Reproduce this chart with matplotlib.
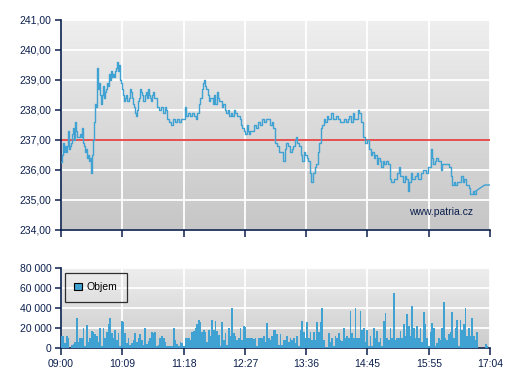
import numpy as np
import matplotlib
matplotlib.use("Agg")
import matplotlib.pyplot as plt
from matplotlib.colors import LinearSegmentedColormap
from matplotlib.patches import Patch
from matplotlib.ticker import FuncFormatter

plt.rcParams['font.family'] = ['Liberation Sans', 'DejaVu Sans']

# price: minutes after 09:00 and price
price_min = [0, 1, 2, 3, 5, 6, 7, 8, 9, 10, 11, 12, 14, 15, 16, 17, 18, 20, 21, 23, 24, 25, 26, 27, 28, 29, 30, 32, 33, 34,
             35, 36, 37, 38, 39, 41, 42, 43, 44, 45, 46, 47, 49, 50, 51, 52, 53, 54, 55, 56, 58, 59, 60, 61, 62, 63, 64, 65,
             67, 68, 69, 70, 71, 72, 73, 74, 76, 77, 78, 79, 80, 81, 82, 83, 85, 86, 87, 88, 89, 90, 91, 92, 94, 95, 96, 97,
             98, 99, 100, 102, 103, 104, 105, 106, 108, 111, 113, 115, 117, 118, 120, 122, 124, 126, 129, 131, 133, 135, 138,
             140, 141, 143, 146, 148, 150, 152, 153, 156, 157, 159, 160, 161, 162, 164, 166, 167, 168, 170, 171, 173, 174, 176,
             177, 178, 180, 182, 183, 185, 186, 188, 190, 192, 193, 195, 196, 199, 200, 202, 203, 204, 205, 206, 208, 209, 210,
             211, 212, 213, 215, 218, 220, 222, 224, 227, 229, 231, 233, 236, 238, 239, 241, 244, 246, 248, 250, 253, 254, 256,
             258, 261, 262, 264, 265, 266, 268, 271, 272, 274, 275, 278, 279, 281, 282, 284, 287, 288, 290, 291, 293, 294, 297,
             298, 300, 301, 303, 305, 307, 309, 310, 312, 315, 317, 319, 321, 324, 325, 327, 329, 331, 333, 335, 336, 338, 341,
             343, 345, 347, 350, 351, 353, 354, 356, 358, 360, 361, 363, 364, 367, 369, 371, 372, 375, 376, 378, 379, 381, 382,
             385, 386, 388, 389, 391, 393, 395, 396, 398, 399, 402, 403, 405, 406, 408, 411, 412, 414, 415, 417, 419, 420, 422,
             423, 425, 426, 429, 430, 432, 434, 437, 438, 440, 441, 443, 444, 447, 448, 450, 451, 453, 455, 457, 458, 460, 461,
             464, 465, 466, 468, 473, 478, 484]
price = [236.28, 236.5, 236.9, 236.6, 236.8, 236.6, 236.8, 237.3, 236.7, 236.8, 236.9, 237.2, 237.4, 237.0, 237.6, 237.3,
         237.1, 237.1, 237.2, 237.1, 237.4, 236.9, 236.8, 236.6, 236.7, 236.4, 236.5, 236.3, 236.4, 235.9, 236.5, 237.0,
         237.6, 238.2, 238.1, 239.4, 238.7, 238.9, 238.5, 238.2, 238.5, 238.8, 238.4, 238.6, 238.7, 238.9, 238.8, 239.2,
         239.0, 239.3, 239.1, 239.2, 239.1, 239.3, 239.4, 239.6, 239.3, 239.5, 239.0, 238.9, 238.7, 238.5, 238.3, 238.4,
         238.5, 238.3, 238.3, 238.4, 238.7, 238.6, 238.4, 238.2, 238.1, 237.9, 237.8, 238.0, 238.3, 238.4, 238.7, 238.6,
         238.5, 238.3, 238.3, 238.5, 238.6, 238.4, 238.7, 238.5, 238.4, 238.3, 238.5, 238.6, 238.4, 238.4, 238.1, 238.0,
         238.1, 237.9, 238.1, 238.0, 237.7, 237.6, 237.5, 237.7, 237.6, 237.7, 237.6, 237.7, 237.7, 238.1, 237.8, 237.9,
         237.8, 237.9, 237.8, 237.7, 237.9, 238.2, 238.4, 238.7, 238.9, 239.0, 238.8, 238.7, 238.5, 238.3, 238.4, 238.4,
         238.2, 238.5, 238.2, 238.6, 238.4, 238.3, 238.3, 238.1, 238.2, 238.0, 237.9, 238.0, 237.8, 237.9, 237.8, 238.0,
         237.9, 237.8, 237.8, 237.7, 237.5, 237.4, 237.4, 237.3, 237.2, 237.2, 237.5, 237.3, 237.2, 237.3, 237.3, 237.5,
         237.4, 237.6, 237.5, 237.7, 237.6, 237.7, 237.7, 237.5, 237.6, 237.4, 236.9, 236.8, 236.6, 236.6, 236.3, 236.7,
         236.9, 236.8, 236.6, 236.7, 236.8, 237.0, 237.1, 236.9, 236.8, 236.5, 236.3, 236.6, 236.5, 236.4, 236.3, 235.9,
         235.6, 235.9, 236.1, 236.2, 236.6, 236.9, 237.4, 237.5, 237.7, 237.6, 237.8, 237.7, 237.7, 237.9, 237.7, 237.7,
         237.8, 237.7, 237.6, 237.6, 237.7, 237.6, 237.7, 237.8, 237.6, 237.9, 237.7, 237.7, 238.0, 237.9, 237.6, 237.1,
         236.9, 237.0, 236.7, 236.5, 236.6, 236.4, 236.5, 236.2, 236.4, 236.3, 236.1, 236.3, 236.2, 236.3, 236.2, 235.7,
         235.6, 235.6, 235.7, 235.7, 235.9, 236.1, 235.8, 235.8, 235.6, 235.8, 235.7, 235.3, 235.6, 235.9, 235.7, 235.7,
         235.8, 235.9, 235.7, 235.7, 235.9, 236.0, 236.0, 235.9, 236.1, 236.1, 236.7, 236.4, 236.2, 236.3, 236.4, 236.3,
         236.3, 236.0, 236.2, 236.2, 236.2, 236.2, 236.1, 235.8, 235.5, 235.6, 235.5, 235.6, 235.6, 235.6, 235.8, 235.6,
         235.7, 235.5, 235.5, 235.4, 235.2, 235.2, 235.3, 235.2, 235.3, 235.4, 235.5, 235.5]

# volume bars, evenly spaced from about 09:01 to 17:01
volume = [12000, 12000, 5000, 12000, 10000, 0, 3000, 4000, 6000, 30000, 6000, 10000, 10000, 20000, 2000, 23000, 6000,
          10000, 17000, 16000, 14000, 12000, 6000, 20000, 2000, 20000, 10000, 16000, 24000, 30000, 15000, 10000, 18000,
          8000, 15000, 2000, 27000, 26000, 15000, 5000, 10000, 3000, 5000, 8000, 15000, 6000, 10000, 14000, 8000, 3000,
          20000, 4000, 7000, 10000, 16000, 15000, 16000, 2000, 3000, 10000, 12000, 10000, 6000, 2000, 2000, 2000, 2000,
          20000, 8000, 4000, 2000, 6000, 5000, 2000, 10000, 10000, 10000, 8000, 16000, 17000, 20000, 24000, 28000, 26000,
          16000, 18000, 16000, 6000, 18000, 12000, 28000, 18000, 27000, 17000, 13000, 2000, 26000, 8000, 15000, 3000,
          20000, 12000, 40000, 15000, 12000, 8000, 10000, 20000, 8000, 22000, 21000, 10000, 10000,
          10000, 10000, 9000, 10000, 2000, 10000, 10000, 10000, 12000, 6000, 25000, 10000, 8000, 12000, 18000, 18000,
          14000, 3000, 14000, 3000, 8000, 8000, 12000, 6000, 10000, 8000, 10000, 5000, 12000, 2000, 18000, 27000, 16000,
          10000, 26000, 10000, 16000, 8000, 16000, 8000, 26000, 16000, 26000, 40000, 8000, 1000, 1000, 15000, 6000, 10000,
          2000, 12000, 10000, 15000, 8000, 7000, 20000, 10000, 12000, 10000, 37000, 15000, 10000, 40000, 10000, 10000,
          37000, 18000, 20000, 6000, 18000, 2000, 12000, 2000, 20000, 10000, 17000, 6000, 10000, 2000, 27000, 35000,
          10000, 8000, 20000, 10000, 55000, 8000, 10000, 10000, 17000, 10000, 24000, 12000, 34000, 22000, 12000, 42000,
          20000, 10000, 22000, 10000, 20000, 6000, 36000, 24000, 10000, 2000, 16000, 25000, 20000, 2000, 5000, 10000,
          8000, 20000, 46000, 10000, 8000, 14000, 16000, 36000, 10000, 20000, 28000, 2000, 28000, 18000, 24000, 40000,
          12000, 20000, 12000, 30000, 12000, 8000, 16000, 0, 0, 0, 0, 4000, 2000]

time_labels = ['09:00', '10:09', '11:18', '12:27', '13:36', '14:45', '15:55', '17:04']
ref_price = 237.0

NAVY = '#0b1f4d'
BLUE = '#3fa2d2'
T_END = 484

def gradient(ax, y0, y1, top, bottom):
    cmap = LinearSegmentedColormap.from_list('bg', [top, bottom])
    ax.imshow(np.linspace(0, 1, 256).reshape(-1, 1), cmap=cmap, aspect='auto',
              extent=[0, T_END, y0, y1], zorder=-1, interpolation='bilinear')

def style(ax):
    ax.set_axisbelow(True)
    ax.grid(True, color='white', linewidth=1.3)
    for s in ['top', 'right']:
        ax.spines[s].set_visible(False)
    for s in ['left', 'bottom']:
        ax.spines[s].set_color(NAVY)
        ax.spines[s].set_linewidth(1.2)
    ax.tick_params(colors=NAVY, labelcolor=NAVY, labelsize=7.5, length=4, width=1.1, direction='out', pad=3)
    ax.set_xlim(0, T_END)
    ax.set_xticks(np.linspace(0, T_END, len(time_labels)))

fig = plt.figure(figsize=(5.07, 3.80), dpi=100)

# price chart
ax1 = fig.add_axes([61/507, 1-230/380, 429/507, 210/380])
gradient(ax1, 234, 241, '#efefef', '#c6c6c6')
# trades drawn as steps, the quiet tail after the last trade as a plain line
n_tail = 4
ax1.plot(price_min[:-n_tail + 1], price[:-n_tail + 1], color=BLUE, linewidth=1.0,
         drawstyle='steps-post', zorder=3)
ax1.plot(price_min[-n_tail:], price[-n_tail:], color=BLUE, linewidth=1.0, zorder=3)
ax1.axhline(ref_price, color='#e02020', linewidth=1.1, zorder=2)
ax1.set_ylim(234, 241)
ax1.set_yticks(np.arange(234, 242))
ax1.yaxis.set_major_formatter(FuncFormatter(lambda v, p: ('%.2f' % v).replace('.', ',')))
style(ax1)
ax1.set_xticklabels([])
ax1.tick_params(axis='x', length=5)
ax1.text(0.96, 0.085, 'www.patria.cz', transform=ax1.transAxes, ha='right', va='center',
         fontsize=7.5, color=NAVY)

# volume chart
ax2 = fig.add_axes([61/507, 1-348/380, 429/507, 80/380])
gradient(ax2, 0, 80000, '#eeeeee', '#cccccc')
vol_t = np.linspace(1, 481, len(volume))
ax2.bar(vol_t, volume, width=1.9, color=BLUE, linewidth=0, zorder=3)
ax2.set_ylim(0, 80000)
ax2.set_yticks([0, 20000, 40000, 60000, 80000])
ax2.yaxis.set_major_formatter(FuncFormatter(lambda v, p: '{:,.0f}'.format(v).replace(',', ' ')))
style(ax2)
ax2.set_xticklabels(time_labels)
ax2.tick_params(axis='x', length=5)
leg = ax2.legend(handles=[Patch(facecolor=BLUE, edgecolor='black', linewidth=0.8, label='Objem')],
                 loc='upper left', bbox_to_anchor=(0.009, 0.94), borderaxespad=0, fontsize=7.5,
                 fancybox=False, handlelength=0.75, handleheight=0.75, handletextpad=0.45,
                 borderpad=0.9)
leg.get_frame().set_edgecolor('black')
leg.get_frame().set_facecolor('none')
leg.get_frame().set_linewidth(0.9)

fig.savefig('out.png', dpi=100)
